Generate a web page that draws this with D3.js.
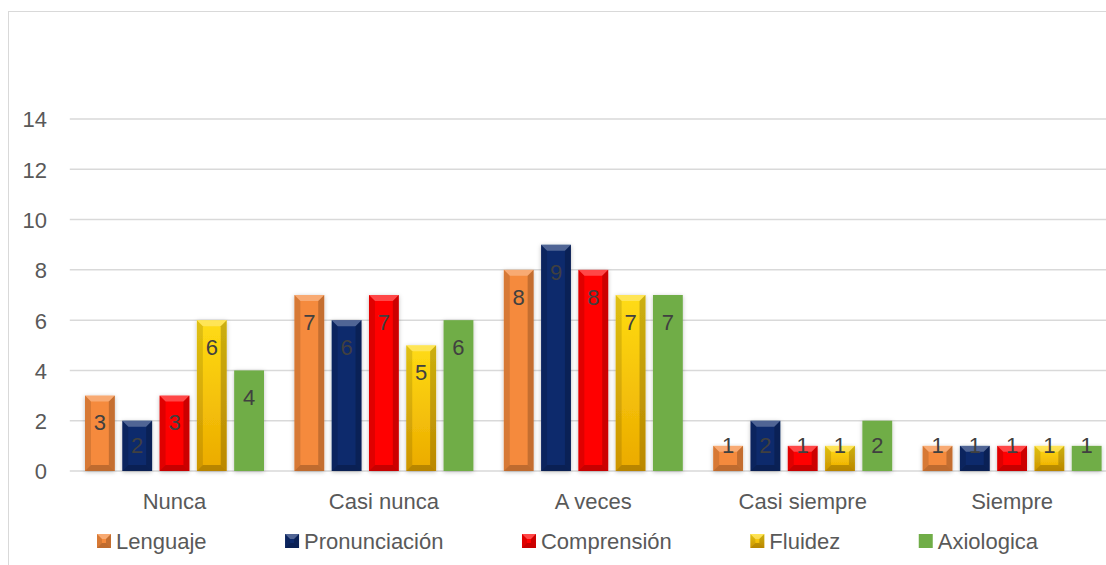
<!DOCTYPE html>
<html><head><meta charset="utf-8">
<script src="https://cdn.jsdelivr.net/npm/d3@7"></script>
<style>
html,body{margin:0;padding:0;background:#fff;}
svg{display:block;font-family:"Liberation Sans",Arial,sans-serif;}
</style></head>
<body>
<svg id="c" width="1106" height="565"></svg>
<script>
const categories = ["Nunca","Casi nunca","A veces","Casi siempre","Siempre"];
const seriesNames = ["Lenguaje","Pronunciación","Comprensión","Fluidez","Axiologica"];
const lenguaje      = [3,7,8,1,1];
const pronunciacion = [2,6,9,2,1];
const comprension   = [3,7,8,1,1];
const fluidez       = [6,5,7,1,1];
const axiologica    = [4,6,7,2,1];
const yTicks = [0,2,4,6,8,10,12,14];

const seriesValues = [lenguaje, pronunciacion, comprension, fluidez, axiologica];
const colors = ["#F58A3C","#0E2A6C","#FF0000","url(#gYellow)","#70AD47"];
const bevel = [true,true,true,true,false];
const FS = 22;

const svg = d3.select("#c");
const defs = svg.append("defs");
const gy = defs.append("linearGradient").attr("id","gYellow").attr("x1",0).attr("y1",0).attr("x2",0).attr("y2",1);
gy.append("stop").attr("offset","0%").attr("stop-color","#FFDC14");
gy.append("stop").attr("offset","100%").attr("stop-color","#EBAA00");
const f = defs.append("filter").attr("id","sh").attr("x","-30%").attr("y","-10%").attr("width","160%").attr("height","130%");
f.append("feDropShadow").attr("dx",0).attr("dy",1).attr("stdDeviation",2).attr("flood-color","#000").attr("flood-opacity",0.25);

// frame
svg.append("rect").attr("x",8.5).attr("y",11.5).attr("width",1120).attr("height",580)
  .attr("fill","none").attr("stroke","#D9D9D9").attr("stroke-width",1);

const left = 69.8, right = 1116.8;
const y = d3.scaleLinear().domain([0,14]).range([471,119]);
const x0 = d3.scaleBand().domain(categories).range([left,right]).padding(0);
const x1 = d3.scaleBand().domain(seriesNames).range([15.2, x0.bandwidth()-15.2]).paddingInner(0.2).paddingOuter(0);

// gridlines
svg.append("g").selectAll("line").data(yTicks).join("line")
  .attr("x1",left).attr("x2",right).attr("y1",d=>y(d)).attr("y2",d=>y(d))
  .attr("stroke","#D9D9D9").attr("stroke-width",1.5);

// y axis labels
const yAxis = d3.axisLeft(y).tickValues(yTicks).tickSize(0).tickPadding(0);
const ya = svg.append("g").attr("transform","translate(47,0)").call(yAxis);
ya.select(".domain").remove();
ya.selectAll("text").attr("font-size",FS).attr("fill","#595959").attr("font-family","Liberation Sans, Arial, sans-serif").attr("dy","0.36em");

// x axis labels
const xAxis = d3.axisBottom(x0).tickSize(0).tickPadding(0);
const xa = svg.append("g").attr("transform","translate(0,492)").call(xAxis);
xa.select(".domain").remove();
xa.selectAll("text").attr("font-size",FS).attr("fill","#595959").attr("font-family","Liberation Sans, Arial, sans-serif").attr("dy","0.75em");

function drawBevel(g, bx, by, w, h, b){
  b = Math.min(b, h/2, w/2);
  g.append("polygon").attr("points",[[bx,by],[bx+w,by],[bx+w-b,by+b],[bx+b,by+b]].join(" "))
    .attr("fill","#fff").attr("fill-opacity",0.28);
  g.append("polygon").attr("points",[[bx,by],[bx+b,by+b],[bx+b,by+h-b],[bx,by+h]].join(" "))
    .attr("fill","#000").attr("fill-opacity",0.12);
  g.append("polygon").attr("points",[[bx+w,by],[bx+w-b,by+b],[bx+w-b,by+h-b],[bx+w,by+h]].join(" "))
    .attr("fill","#000").attr("fill-opacity",0.2);
  g.append("polygon").attr("points",[[bx,by+h],[bx+b,by+h-b],[bx+w-b,by+h-b],[bx+w,by+h]].join(" "))
    .attr("fill","#000").attr("fill-opacity",0.22);
}

// bars
const barData = [];
categories.forEach((c,ci)=>{
  seriesNames.forEach((s,si)=>{
    barData.push({c, s, si, v: seriesValues[si][ci]});
  });
});
const bars = svg.append("g");
barData.forEach(d=>{
  const bx = x0(d.c)+x1(d.s), w = x1.bandwidth();
  const by = y(d.v), h = y(0)-y(d.v);
  const g = bars.append("g");
  g.append("rect").attr("x",bx).attr("y",by).attr("width",w).attr("height",h)
    .attr("fill",colors[d.si]).attr("filter","url(#sh)");
  if (bevel[d.si]) drawBevel(g,bx,by,w,h,6);
});

// data labels
svg.append("g").selectAll("text").data(barData).join("text")
  .attr("x",d=>x0(d.c)+x1(d.s)+x1.bandwidth()/2)
  .attr("y",d=>Math.min(y(d.v)+27, y(0)-26))
  .attr("dy","0.36em").attr("text-anchor","middle")
  .attr("font-size",FS).attr("fill","#404040")
  .text(d=>d.v);

// legend
const leg = svg.append("g");
let lx = 0;
seriesNames.forEach((s,i)=>{
  const g = leg.append("g").attr("transform",`translate(${lx},0)`);
  const m = 14;
  g.append("rect").attr("x",0).attr("y",-m/2).attr("width",m).attr("height",m).attr("fill",colors[i]);
  if (bevel[i]) drawBevel(g,0,-m/2,m,m,5);
  const t = g.append("text").attr("x",m+5).attr("y",0).attr("dy","0.36em")
    .attr("font-size",FS).attr("fill","#595959").text(s);
  const tw = t.node().getComputedTextLength();
  lx += m + 5 + tw + 78.5;
});
leg.attr("transform",`translate(97,541)`);
</script>
</body></html>
